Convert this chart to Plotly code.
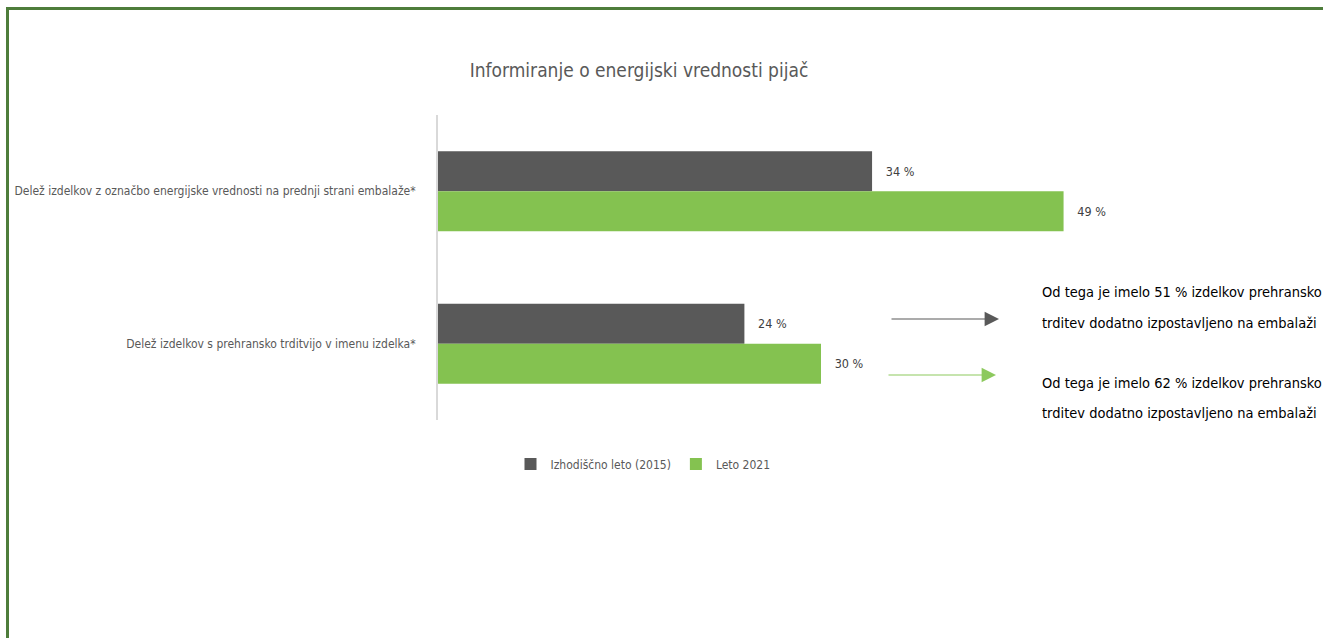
import plotly.graph_objects as go

categories = [
    "Delež izdelkov z označbo energijske vrednosti na prednji strani embalaže*",
    "Delež izdelkov s prehransko trditvijo v imenu izdelka*",
]
series_names = ["Izhodiščno leto (2015)", "Leto 2021"]
values_2015 = [34, 24]
values_2021 = [49, 30]
title_text = "Informiranje o energijski vrednosti pijač"
note_lines_1 = ["Od tega je imelo 51 % izdelkov prehransko", "trditev dodatno izpostavljeno na embalaži"]
note_lines_2 = ["Od tega je imelo 62 % izdelkov prehransko", "trditev dodatno izpostavljeno na embalaži"]

FONT = "DejaVu Sans Condensed, Liberation Sans Narrow, sans-serif"
DARK = "#595959"
GREEN = "#84C250"
NB = "\u00a0"

fig = go.Figure()
fig.add_trace(go.Bar(
    y=categories, x=values_2015, name=series_names[0], orientation="h",
    marker=dict(color=DARK, line=dict(width=0)),
    text=[f"{v}{NB}%" for v in values_2015], texttemplate=NB * 3 + "%{text}",
    textposition="outside", textfont=dict(family=FONT, size=12.5, color="#404040"),
    hoverinfo="skip",
))
fig.add_trace(go.Bar(
    y=categories, x=values_2021, name=series_names[1], orientation="h",
    marker=dict(color=GREEN, line=dict(width=0)),
    text=[f"{v}{NB}%" for v in values_2021], texttemplate=NB * 3 + "%{text}",
    textposition="outside", textfont=dict(family=FONT, size=12.5, color="#404040"),
    hoverinfo="skip",
))

W, H = 1323, 638
L, R, T, B = 438, 119, 115, 218
pw, ph = W - L - R, H - T - B

def px(x):
    return (x - L) / pw

def py(y):
    return (H - B - y) / ph

annotations = []
for line, yy in zip(note_lines_1 + note_lines_2, [292, 323, 383, 413]):
    annotations.append(dict(
        text=line, xref="paper", yref="paper", x=px(1040), y=py(yy),
        xanchor="left", yanchor="middle", showarrow=False,
        font=dict(family=FONT, size=14.5, color="#000000"),
    ))
# arrows
annotations.append(dict(
    text="", xref="paper", yref="paper", x=px(999), y=py(319), ax=-109, ay=0,
    showarrow=True, arrowhead=2, arrowsize=2.4, arrowwidth=1.2, arrowcolor=DARK,
))
annotations.append(dict(
    text="", xref="paper", yref="paper", x=px(996), y=py(375), ax=-109, ay=0,
    showarrow=True, arrowhead=2, arrowsize=2.4, arrowwidth=1.2, arrowcolor="#8DC95E",
))

shapes = [
    dict(type="line", xref="paper", yref="paper", x0=px(7.5), x1=px(7.5), y0=py(660), y1=py(8.5),
         line=dict(color="#4E7D3B", width=3)),
    dict(type="line", xref="paper", yref="paper", x0=px(6), x1=px(1340), y0=py(8.5), y1=py(8.5),
         line=dict(color="#4E7D3B", width=3)),
]

fig.update_layout(
    width=W, height=H,
    margin=dict(l=L, r=R, t=T, b=B, pad=0, autoexpand=False),
    paper_bgcolor="white", plot_bgcolor="white",
    font=dict(family=FONT, size=12, color="#595959"),
    title=dict(text=title_text, x=639 / W, xanchor="center", y=1 - 70 / H, yanchor="middle",
               font=dict(family=FONT, size=19, color="#595959")),
    barmode="group", bargap=0.475, bargroupgap=0,
    xaxis=dict(range=[0, 60], visible=False, showgrid=False, zeroline=False, automargin=False),
    yaxis=dict(autorange="reversed", showline=True, linecolor="#D9D9D9", linewidth=2,
               ticks="", ticklabelstandoff=18, showgrid=False, zeroline=False, automargin=False,
               tickfont=dict(family=FONT, size=12, color="#595959")),
    legend=dict(orientation="h", x=px(643), xanchor="center", y=py(464), yanchor="middle",
                font=dict(family=FONT, size=12, color="#595959"), traceorder="normal",
                itemwidth=30),
    showlegend=True,
    hovermode=False,
    annotations=annotations, shapes=shapes,
)

fig.write_html("out.html",
               config={"displayModeBar": False, "staticPlot": False},
               post_script="document.body.style.margin='0';document.body.style.padding='0';")
